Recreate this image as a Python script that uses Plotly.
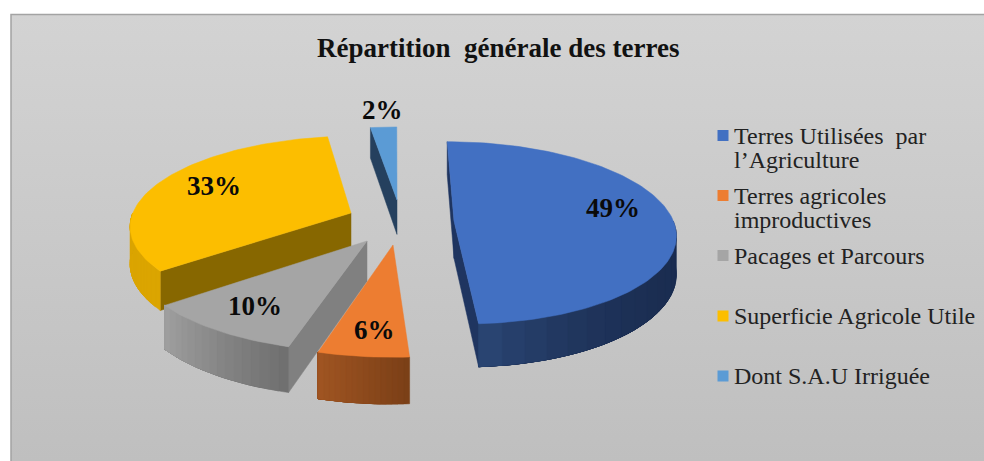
import math
import plotly.graph_objects as go

# ---- data ----
title = "Répartition  générale des terres"
categories = ["Terres Utilisées par l’Agriculture", "Terres agricoles improductives",
              "Pacages et Parcours", "Superficie Agricole Utile", "Dont S.A.U Irriguée"]
values = [49.0, 5.5, 9.95, 33.2, 2.35]

# ---- style and layout ----
legend_lines = [["Terres Utilisées  par", "l’Agriculture"], ["Terres agricoles", "improductives"],
                ["Pacages et Parcours"], ["Superficie Agricole Utile"], ["Dont S.A.U Irriguée"]]
legend_y = [135.5, 195.5, 255.5, 316, 376]
legend_text_y = [[136, 160], [196, 220], [256], [316], [376]]
face = ["#4270C2", "#ED7D31", "#A5A5A5", "#FCBE00", "#5B9BD5"]
wall_from = ["#2A4674", "#A05522", "#A0A0A0", "#DBA500", "#27405F"]
wall_to = ["#1A2C50", "#7A3F17", "#6E6E6E", "#DBA500", "#27405F"]
wall_curve = [3.0, 1.0, 1.0, 1.0, 1.0]
cut = ["#1F3560", "#8A4A1C", "#808080", "#876700", "#25405E"]
apex = [(454, 221), (393, 245), (367, 241), (351, 213), (397, 200)]
x_scale = [1.0, 0.98, 0.99, 1.025, 1.0]
label_xy = [(613, 208), (374, 330), (255, 306), (214, 186), (382, 110)]
XC, A, B, D, P = 395, 235, 96, 40, 0.13
SERIF = "Liberation Serif"

total = sum(values)
starts, ang = [], 0.0
for val in values:
    starts.append(ang)
    ang += val / total * 2 * math.pi


def pt(i, th, r=1.0, depth=0.0):
    ax, ay = apex[i]
    s = 1 + (ay - 240) * 0.0035
    u, v = math.sin(th) * r, -math.cos(th) * r
    g = 1 / (1 - P * v)
    return (XC + (ax - XC) * g + A * x_scale[i] * s * u * g,
            ay + B * s * v * g + D * s * g * depth)


def hexmix(c1, c2, t):
    a = [int(c1[i:i + 2], 16) for i in (1, 3, 5)]
    b = [int(c2[i:i + 2], 16) for i in (1, 3, 5)]
    return "#" + "".join(f"{round(x + (y - x) * t):02X}" for x, y in zip(a, b))


fig = go.Figure()


def poly(pts, color, name=""):
    xs = [p[0] for p in pts] + [pts[0][0]]
    ys = [p[1] for p in pts] + [pts[0][1]]
    fig.add_trace(go.Scatter(x=xs, y=ys, mode="lines", fill="toself", fillcolor=color,
                             line=dict(color=color, width=0.5), showlegend=False,
                             hoverinfo="skip", name=name))


# background panel with vertical gradient
fig.add_trace(go.Scatter(x=[11, 984, 984, 11, 11], y=[15, 15, 461, 461, 15], mode="lines",
                         fill="toself", line=dict(width=0), showlegend=False, hoverinfo="skip",
                         fillgradient=dict(type="vertical",
                                           colorscale=[[0, "#BFBFBF"], [1, "#D3D3D3"]])))
fig.add_trace(go.Scatter(x=[11, 11, 984], y=[461, 14.5, 14.5], mode="lines",
                         line=dict(color="#A3A3A3", width=1.5), showlegend=False, hoverinfo="skip"))


def draw_slice(i):
    t0 = starts[i]
    t1 = t0 + values[i] / total * 2 * math.pi
    # cut faces visible for each slice
    edges = {0: [t0, t1], 1: [], 2: [t0], 3: [t0], 4: [t0]}[i]
    for e in edges:
        poly([pt(i, 0, 0), pt(i, e), pt(i, e, 1, 1), pt(i, 0, 0, 1)], cut[i])
    # outer wall, only where it faces the viewer; each band overlaps the next one
    lo, hi = max(t0, math.pi / 2), min(t1, 1.5 * math.pi)
    if hi > lo:
        n = 16
        for k in range(n):
            b0 = lo + (hi - lo) * k / n
            arc = [b0 + (hi - b0) * j / 24 for j in range(25)]
            shade = ((k + 0.5) / n) ** wall_curve[i]
            col = hexmix(wall_from[i], wall_to[i], 1 - shade)
            poly([pt(i, t) for t in arc] + [pt(i, t, 1, 1) for t in reversed(arc)], col)
    # top face
    n = max(8, int((t1 - t0) * 40))
    poly([pt(i, 0, 0)] + [pt(i, t0 + (t1 - t0) * j / n) for j in range(n + 1)], face[i],
         categories[i])


for i in [3, 4, 0, 2, 1]:
    draw_slice(i)

# legend swatches
fig.add_trace(go.Scatter(x=[723] * 5, y=legend_y, mode="markers",
                         marker=dict(symbol="square", size=11, color=face, line=dict(width=0)),
                         showlegend=False, hoverinfo="skip"))

annotations = [dict(x=498, y=48, text=f"<b>{title}</b>", showarrow=False, xanchor="center",
                    yanchor="middle", font=dict(family=SERIF, size=27, color="#111111"))]
for v, (x, y) in zip(values, label_xy):
    annotations.append(dict(x=x, y=y, text=f"<b>{round(v)}%</b>", showarrow=False, xanchor="center",
                            yanchor="middle", font=dict(family=SERIF, size=27, color="#0A0A0A")))
for lines, ys in zip(legend_lines, legend_text_y):
    for line, y in zip(lines, ys):
        annotations.append(dict(x=732, y=y, text=line, showarrow=False, xanchor="left",
                                yanchor="middle", font=dict(family=SERIF, size=24, color="#222222")))

fig.update_layout(width=984, height=461, autosize=False, margin=dict(l=0, r=0, t=0, b=0),
                  paper_bgcolor="white", plot_bgcolor="white", showlegend=False,
                  xaxis=dict(range=[0, 984], visible=False, fixedrange=True),
                  yaxis=dict(range=[461, 0], visible=False, fixedrange=True),
                  annotations=annotations)
fig.write_html("out.html", config={"displayModeBar": False},
               post_script="document.body.style.margin='0';document.body.style.overflow='hidden';")
